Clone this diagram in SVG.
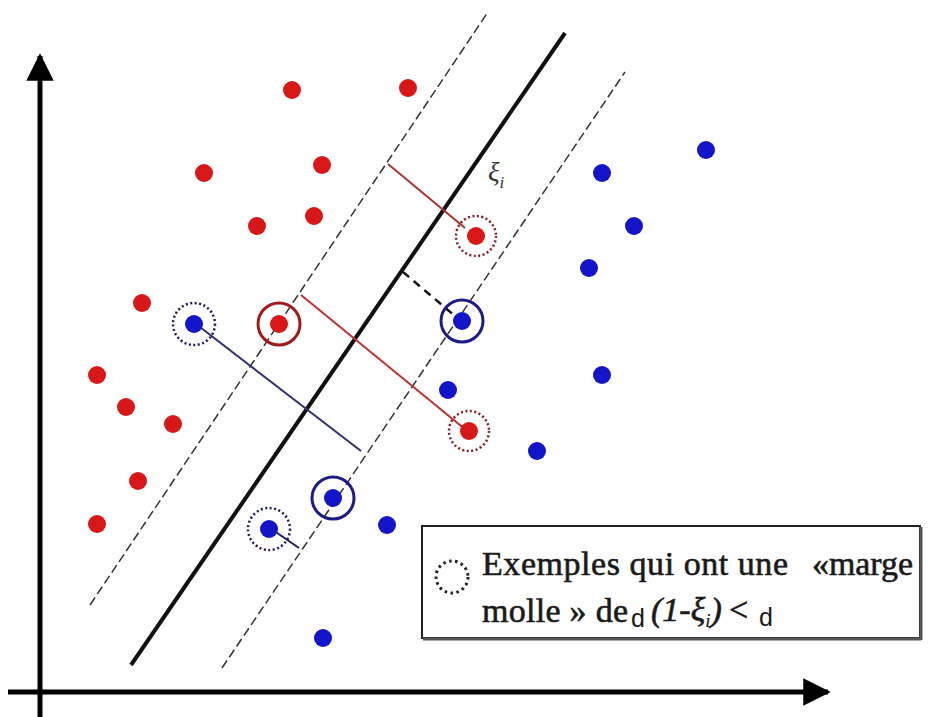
<svg xmlns="http://www.w3.org/2000/svg" width="933" height="717" viewBox="0 0 933 717">
<style>
.r{fill:#d81818}
.b{fill:#1414c8}
.dash{stroke:#333;stroke-width:1.5;stroke-dasharray:9 4;fill:none}
.ringr{fill:none;stroke:#a01c1c;stroke-width:3}
.ringb{fill:none;stroke:#1c1c88;stroke-width:3}
.dotr{fill:none;stroke:#8a2020;stroke-width:2.5;stroke-dasharray:2 2.5}
.dotb{fill:none;stroke:#1c1c60;stroke-width:2.5;stroke-dasharray:2 2.5}
.t{font-family:"Liberation Serif",serif;font-size:34px;fill:#1a1a1a;stroke:#1a1a1a;stroke-width:0.6}
.s{font-family:"Liberation Sans",sans-serif;font-size:25px;fill:#1a1a1a;stroke:none}
</style>
<defs>
<marker id="ah" viewBox="0 0 10 10" refX="9" refY="5" markerWidth="5.5" markerHeight="5.5" orient="auto" markerUnits="strokeWidth">
<path d="M0,0 L10,5 L0,10 z" fill="#000"/>
</marker>
</defs>
<rect width="933" height="717" fill="#fff"/>
<g id="axes">
<line x1="40" y1="717" x2="40" y2="56" stroke="#000" stroke-width="5" marker-end="url(#ah)"/>
<line x1="8" y1="692" x2="828" y2="692" stroke="#000" stroke-width="5" marker-end="url(#ah)"/>
</g>
<g id="hyperplanes">
<line x1="131" y1="665" x2="565" y2="33" stroke="#111" stroke-width="4"/>
<line class="dash" x1="90" y1="605" x2="488" y2="12"/>
<line class="dash" x1="222" y1="668" x2="625" y2="72"/>
</g>
<g id="connectors">
<line x1="388" y1="164" x2="465" y2="228" stroke="#b03030" stroke-width="2"/>
<line x1="301" y1="295" x2="466" y2="430" stroke="#c03030" stroke-width="2"/>
<line x1="196" y1="324" x2="361" y2="451" stroke="#303070" stroke-width="2"/>
<line x1="403" y1="272" x2="455" y2="316" stroke="#111" stroke-width="2.5" stroke-dasharray="8 6"/>
<line x1="270" y1="528" x2="299" y2="548" stroke="#202060" stroke-width="2"/>
</g>
<g id="red-points">
<circle class="r" cx="292" cy="90" r="9"/>
<circle class="r" cx="408" cy="88" r="9"/>
<circle class="r" cx="204" cy="173" r="9"/>
<circle class="r" cx="322" cy="165" r="9"/>
<circle class="r" cx="257" cy="226" r="9"/>
<circle class="r" cx="314" cy="216" r="9"/>
<circle class="r" cx="142" cy="303" r="9"/>
<circle class="r" cx="97" cy="375" r="9"/>
<circle class="r" cx="126" cy="407" r="9"/>
<circle class="r" cx="173" cy="424" r="9"/>
<circle class="r" cx="138" cy="481" r="9"/>
<circle class="r" cx="97" cy="524" r="9"/>
</g>
<g id="red-support">
<circle class="r" cx="279" cy="324" r="9"/>
<circle class="ringr" cx="279" cy="324" r="21"/>
</g>
<g id="red-soft-1">
<circle class="r" cx="476" cy="236" r="9"/>
<circle class="dotr" cx="476" cy="236" r="20"/>
</g>
<g id="red-soft-2">
<circle class="r" cx="469" cy="431" r="9"/>
<circle class="dotr" cx="469" cy="431" r="20"/>
</g>
<g id="blue-points">
<circle class="b" cx="706" cy="150" r="9"/>
<circle class="b" cx="602" cy="173" r="9"/>
<circle class="b" cx="634" cy="226" r="9"/>
<circle class="b" cx="589" cy="268" r="9"/>
<circle class="b" cx="448" cy="390" r="9"/>
<circle class="b" cx="602" cy="375" r="9"/>
<circle class="b" cx="537" cy="451" r="9"/>
<circle class="b" cx="387" cy="525" r="9"/>
<circle class="b" cx="323" cy="638" r="9"/>
</g>
<g id="blue-support-1">
<circle class="b" cx="462" cy="321" r="9"/>
<circle class="ringb" cx="462" cy="321" r="21"/>
</g>
<g id="blue-support-2">
<circle class="b" cx="333" cy="498" r="9"/>
<circle class="ringb" cx="333" cy="498" r="21"/>
</g>
<g id="blue-soft-1">
<circle class="b" cx="194" cy="324" r="9"/>
<circle class="dotb" cx="194" cy="324" r="21"/>
</g>
<g id="blue-soft-2">
<circle class="b" cx="269" cy="529" r="9"/>
<circle class="dotb" cx="269" cy="529" r="21"/>
</g>
<g id="xi-label">
<text x="488" y="181" font-family="Liberation Serif,serif" font-size="27" font-style="italic" fill="#333">ξ<tspan font-size="17" dy="7">i</tspan></text>
</g>
<g id="legend">
<rect x="422" y="526" width="498" height="112" fill="#fff" stroke="#222" stroke-width="2"/>
<line x1="423" y1="639" x2="921" y2="639" stroke="#555" stroke-width="3"/>
<line x1="921" y1="527" x2="921" y2="640" stroke="#555" stroke-width="3"/>
<circle cx="452" cy="577" r="16" fill="none" stroke="#222" stroke-width="3" stroke-dasharray="2.5 3.5"/>
<text class="t" x="482" y="575" textLength="306" lengthAdjust="spacing">Exemples qui ont une</text>
<text class="t" x="812" y="575" textLength="101" lengthAdjust="spacingAndGlyphs">«marge</text>
<text class="t" x="482" y="622" textLength="146" lengthAdjust="spacing">molle » de</text>
<text class="s" x="631" y="627">d</text>
<text class="t" x="651" y="621" font-style="italic">(1-ξ<tspan font-size="19" dy="6" stroke-width="0.2">i</tspan><tspan dy="-6">)</tspan></text>
<text class="t" x="729" y="621">&lt;</text>
<text class="s" x="759" y="626" font-size="23">d</text>
</g>
</svg>
